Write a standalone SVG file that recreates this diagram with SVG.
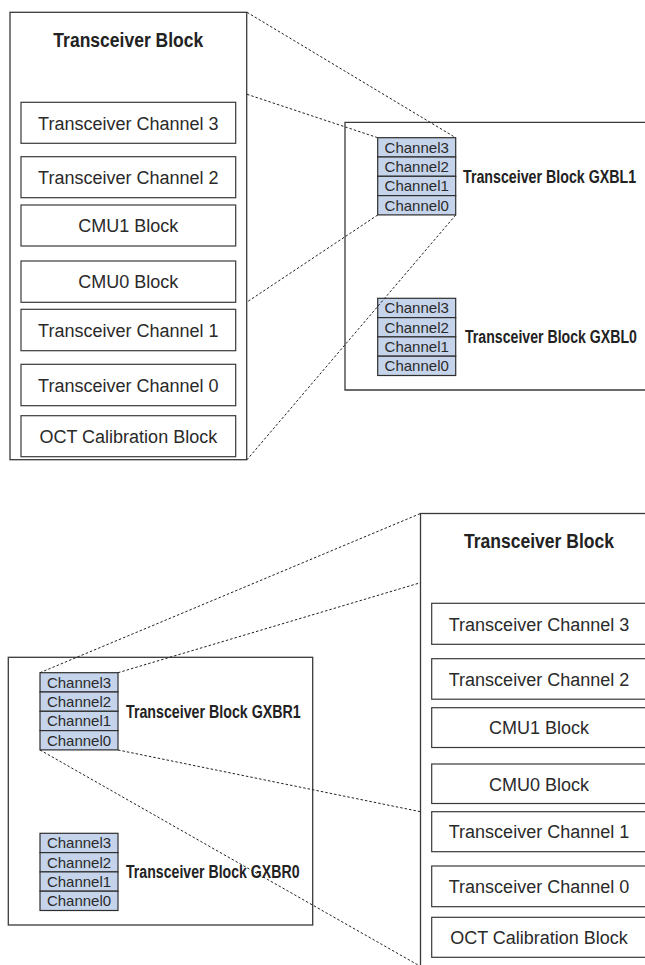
<svg xmlns="http://www.w3.org/2000/svg" width="645" height="965" viewBox="0 0 645 965">
<style>
.outer{fill:#fff;stroke:#3a3a3a;stroke-width:1.3}
.box{fill:#fff;stroke:#3a3a3a;stroke-width:1.2}
.cell{fill:#c5d4ea;stroke:#2e2e2e;stroke-width:1.2}
.t{font-family:"Liberation Sans",Arial,sans-serif;font-size:18px;fill:#2a2a2a;text-anchor:middle}
.c{font-family:"Liberation Sans",Arial,sans-serif;font-size:15px;fill:#2a2a2a;text-anchor:middle}
.h{font-family:"Liberation Sans",Arial,sans-serif;font-weight:bold;fill:#222}
.dash{fill:none;stroke:#222;stroke-width:1;stroke-dasharray:2.5 2}
</style>
<defs>
<g id="stack">
<rect class="cell" x="0" y="0" width="78" height="19.3"/>
<rect class="cell" x="0" y="19.3" width="78" height="19.3"/>
<rect class="cell" x="0" y="38.6" width="78" height="19.3"/>
<rect class="cell" x="0" y="57.9" width="78" height="19.3"/>
<text class="c" x="39" y="15.2">Channel3</text>
<text class="c" x="39" y="34.5">Channel2</text>
<text class="c" x="39" y="53.8">Channel1</text>
<text class="c" x="39" y="73.1">Channel0</text>
</g>
</defs>

<g id="blockTop">
<rect class="outer" x="10" y="12.3" width="236.7" height="447.4"/>
<text class="h" transform="translate(128.3,46.7) scale(0.834,1)" x="0" y="0" font-size="21" text-anchor="middle">Transceiver Block</text>
<g id="top-ch3"><rect class="box" x="21" y="102.3" width="214.7" height="41"/><text class="t" x="128.3" y="129.5">Transceiver Channel 3</text></g>
<g id="top-ch2"><rect class="box" x="21" y="156.7" width="214.7" height="41"/><text class="t" x="128.3" y="183.9">Transceiver Channel 2</text></g>
<g id="top-cmu1"><rect class="box" x="21" y="205" width="214.7" height="41"/><text class="t" x="128.3" y="232.2">CMU1 Block</text></g>
<g id="top-cmu0"><rect class="box" x="21" y="261" width="214.7" height="41.3"/><text class="t" x="128.3" y="288.3">CMU0 Block</text></g>
<g id="top-ch1"><rect class="box" x="21" y="309.3" width="214.7" height="41.4"/><text class="t" x="128.3" y="336.6">Transceiver Channel 1</text></g>
<g id="top-ch0"><rect class="box" x="21" y="364.3" width="214.7" height="41.4"/><text class="t" x="128.3" y="391.6">Transceiver Channel 0</text></g>
<g id="top-oct"><rect class="box" x="21" y="415.7" width="214.7" height="41"/><text class="t" x="128.3" y="442.9">OCT Calibration Block</text></g>
</g>

<g id="sideLeft">
<path class="outer" d="M660,122.3 H345 V390 H660"/>
</g>
<g id="GXBL1">
<use href="#stack" x="377.7" y="137.7"/>
<text class="h" transform="translate(463,183) scale(0.813,1)" x="0" y="0" font-size="17.5">Transceiver Block GXBL1</text>
</g>
<g id="GXBL0">
<use href="#stack" x="377.7" y="298.3"/>
<text class="h" transform="translate(465,343) scale(0.808,1)" x="0" y="0" font-size="17.5">Transceiver Block GXBL0</text>
</g>

<g id="sideRight">
<rect class="outer" x="8.3" y="657.3" width="304.4" height="267.7"/>
</g>
<g id="GXBR1">
<use href="#stack" x="40" y="672.7"/>
<text class="h" transform="translate(126,718) scale(0.813,1)" x="0" y="0" font-size="17.5">Transceiver Block GXBR1</text>
</g>
<g id="GXBR0">
<use href="#stack" x="40" y="833.3"/>
<text class="h" transform="translate(126,878) scale(0.808,1)" x="0" y="0" font-size="17.5">Transceiver Block GXBR0</text>
</g>

<g id="blockBottom">
<rect class="outer" x="420.5" y="513.5" width="260" height="470"/>
<text class="h" transform="translate(539,548) scale(0.834,1)" x="0" y="0" font-size="21" text-anchor="middle">Transceiver Block</text>
<g id="bot-ch3"><rect class="box" x="431.7" y="603.3" width="214.7" height="41"/><text class="t" x="539" y="630.5">Transceiver Channel 3</text></g>
<g id="bot-ch2"><rect class="box" x="431.7" y="658.7" width="214.7" height="40.5"/><text class="t" x="539" y="685.6">Transceiver Channel 2</text></g>
<g id="bot-cmu1"><rect class="box" x="431.7" y="707.7" width="214.7" height="39.8"/><text class="t" x="539" y="734.3">CMU1 Block</text></g>
<g id="bot-cmu0"><rect class="box" x="431.7" y="764" width="214.7" height="39.5"/><text class="t" x="539" y="790.5">CMU0 Block</text></g>
<g id="bot-ch1"><rect class="box" x="431.7" y="811.7" width="214.7" height="40"/><text class="t" x="539" y="838.4">Transceiver Channel 1</text></g>
<g id="bot-ch0"><rect class="box" x="431.7" y="866" width="214.7" height="40.7"/><text class="t" x="539" y="893">Transceiver Channel 0</text></g>
<g id="bot-oct"><rect class="box" x="431.7" y="917.3" width="214.7" height="40"/><text class="t" x="539" y="944">OCT Calibration Block</text></g>
</g>

<g id="connectors">
<line class="dash" x1="247" y1="12.3" x2="455.7" y2="137.7"/>
<line class="dash" x1="247" y1="94.3" x2="377.7" y2="137.7"/>
<line class="dash" x1="377.7" y1="215" x2="247" y2="302"/>
<line class="dash" x1="455.7" y1="215" x2="247" y2="459.7"/>
<line class="dash" x1="40" y1="672.7" x2="420.5" y2="513.5"/>
<line class="dash" x1="118" y1="672.7" x2="420.5" y2="582.7"/>
<line class="dash" x1="118" y1="750" x2="420.5" y2="811.7"/>
<line class="dash" x1="40" y1="750" x2="418" y2="965"/>
</g>
</svg>
